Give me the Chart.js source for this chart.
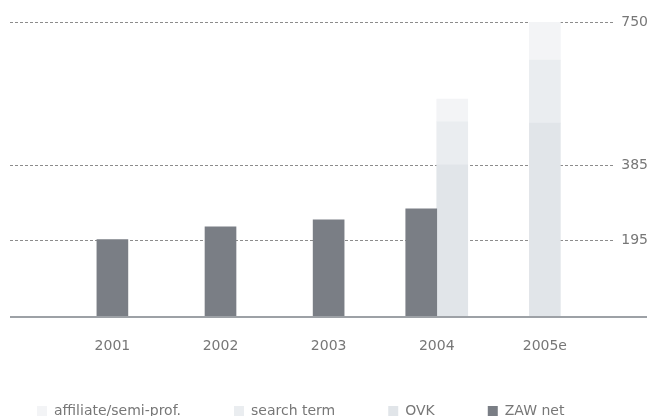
<!DOCTYPE html>
<html>
<head>
<meta charset="utf-8">
<script src="https://cdn.jsdelivr.net/npm/chart.js@4/dist/chart.umd.min.js"></script>
<style>
  html, body { margin: 0; padding: 0; background: #fff; overflow: hidden; }
  #wrap { width: 660px; height: 428px; }
</style>
</head>
<body>
<div id="wrap"><canvas id="chart"></canvas></div>
<script>
// =====================
// Data
// =====================
const years = ["2001", "2002", "2003", "2004", "2005e"];
const zawNet = [197, 229, 247, 275, null];
const ovk = [null, null, null, 387, 493];
const searchTerm = [null, null, null, 109, 160];
const affiliate = [null, null, null, 58, 97];
const yTicks = [195, 385, 750];

// =====================
// Helpers
// =====================
function toPoints(values) {
    return values.map((v, i) => ({ x: i, y: v }));
}

// baseline runs under the tick labels too
const baselinePlugin = {
    id: "baseline",
    afterLayout(chart) {
        // legend sits a bit left of the chart centre in the original
        chart.legend.left -= 26;
        chart.legend.right -= 26;
    },
    afterDatasetsDraw(chart) {
        const ctx = chart.ctx;
        const y = chart.scales.y.getPixelForValue(0);
        ctx.save();
        ctx.strokeStyle = "#9da1a6";
        ctx.lineWidth = 2;
        ctx.beginPath();
        ctx.moveTo(10, y);
        ctx.lineTo(647, y);
        ctx.stroke();
        ctx.restore();
    }
};

// =====================
// Chart
// =====================
Chart.defaults.font.family = "'DejaVu Sans', Verdana, sans-serif";
Chart.defaults.font.size = 14;
Chart.defaults.color = "#777";

new Chart(document.getElementById("chart"), {
    type: "bar",
    data: {
        datasets: [
            { label: "ZAW net", data: toPoints(zawNet), backgroundColor: "#7a7e85", stack: "zaw" },
            { label: "OVK", data: toPoints(ovk), backgroundColor: "#e1e5e9", stack: "online" },
            { label: "search term", data: toPoints(searchTerm), backgroundColor: "#eaedf0", stack: "online" },
            { label: "affiliate/semi-prof.", data: toPoints(affiliate), backgroundColor: "#f3f4f6", stack: "online" }
        ]
    },
    options: {
        responsive: true,
        maintainAspectRatio: false,
        animation: false,
        skipNull: true,
        barThickness: 31,
        layout: { padding: { left: 10, right: 5, top: 22, bottom: 0 } },
        scales: {
            x: {
                type: "linear",
                offset: false,
                min: -0.947,
                max: 4.642,
                grid: { display: false, drawTicks: false, offset: false },
                border: { display: false },
                afterBuildTicks: s => { s.ticks = years.map((_, i) => ({ value: i })); },
                afterFit: s => { s.height = 34; },
                ticks: {
                    padding: 21,
                    maxRotation: 0,
                    callback: v => years[v]
                }
            },
            y: {
                position: "right",
                stacked: true,
                min: 0,
                max: 750,
                afterBuildTicks: s => { s.ticks = yTicks.map(v => ({ value: v })); },
                grid: { color: "#8c8c8c", lineWidth: 1, drawTicks: false },
                border: { display: false, dash: [3, 2] },
                ticks: { padding: 7 }
            }
        },
        plugins: {
            legend: {
                position: "bottom",
                align: "start",
                reverse: true,
                labels: { boxWidth: 10, boxHeight: 10, padding: 53, color: "#777" }
            },
            tooltip: { enabled: false }
        }
    },
    plugins: [baselinePlugin]
});
</script>
</body>
</html>
